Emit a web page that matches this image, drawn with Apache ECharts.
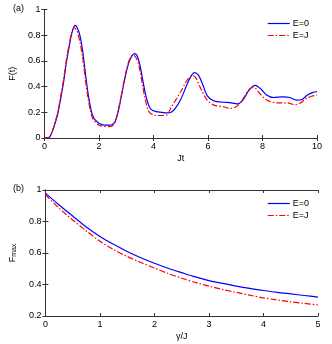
<!DOCTYPE html>
<html lang="en" style="height: 100%">
<head>
  <meta charset="utf-8">
</head>
<body style="height: 100%; margin: 0; background: #fff">
  <div id="container" style="width: 332px; height: 344px"></div>

  <script type="text/javascript" src="https://cdn.jsdelivr.net/npm/echarts@6/dist/echarts.min.js"></script>

  <script type="text/javascript">
    // panel (a): F(t) vs Jt
    var tA = [0, 0.2, 0.4, 0.5, 0.6, 0.7, 0.8, 0.9, 1.0, 1.12, 1.2, 1.3, 1.4, 1.5, 1.6, 1.7, 1.8, 2.0, 2.2, 2.4,
      2.5, 2.6, 2.7, 2.8, 2.9, 3.0, 3.1, 3.2, 3.3, 3.4, 3.5, 3.6, 3.7, 3.8, 3.9, 4.1, 4.3, 4.5, 4.65, 4.8,
      5.0, 5.2, 5.35, 5.5, 5.65, 5.8, 5.97, 6.2, 6.45, 6.7, 6.95, 7.1, 7.3, 7.5, 7.73, 7.95, 8.15, 8.4, 8.75, 9.0,
      9.25, 9.45, 9.65, 9.85, 10];
    var fE0 = [0, 0.01, 0.12, 0.20, 0.31, 0.43, 0.58, 0.70, 0.81, 0.876, 0.86, 0.80, 0.68, 0.51, 0.35, 0.23, 0.16, 0.115, 0.10, 0.10,
      0.105, 0.13, 0.20, 0.30, 0.41, 0.51, 0.59, 0.635, 0.656, 0.64, 0.57, 0.46, 0.35, 0.27, 0.225, 0.205, 0.20, 0.195, 0.20, 0.23,
      0.30, 0.40, 0.47, 0.509, 0.49, 0.42, 0.33, 0.29, 0.28, 0.277, 0.27, 0.265, 0.30, 0.37, 0.41, 0.38, 0.335, 0.315, 0.32, 0.315,
      0.295, 0.30, 0.335, 0.355, 0.36];
    var tB = [0, 0.2, 0.4, 0.5, 0.6, 0.7, 0.8, 0.9, 1.0, 1.09, 1.2, 1.3, 1.4, 1.5, 1.6, 1.7, 1.8, 2.0, 2.2, 2.35,
      2.5, 2.6, 2.7, 2.8, 2.9, 3.0, 3.1, 3.2, 3.27, 3.4, 3.5, 3.6, 3.7, 3.8, 3.9, 4.1, 4.3, 4.5, 4.65, 4.8,
      5.0, 5.2, 5.32, 5.43, 5.55, 5.7, 5.97, 6.22, 6.58, 6.83, 7.07, 7.3, 7.45, 7.6, 7.75, 7.9, 8.16, 8.53, 8.89, 9.19,
      9.4, 9.61, 9.8, 10];
    var fEJ = [0, 0.01, 0.13, 0.21, 0.33, 0.45, 0.60, 0.72, 0.82, 0.86, 0.83, 0.75, 0.63, 0.46, 0.31, 0.20, 0.14, 0.10, 0.09, 0.088,
      0.095, 0.13, 0.21, 0.31, 0.42, 0.52, 0.60, 0.64, 0.645, 0.61, 0.53, 0.41, 0.30, 0.22, 0.19, 0.175, 0.175, 0.18, 0.24, 0.29,
      0.36, 0.44, 0.47, 0.488, 0.47, 0.40, 0.295, 0.256, 0.243, 0.23, 0.248, 0.31, 0.36, 0.393, 0.385, 0.346, 0.295, 0.274, 0.274, 0.26,
      0.275, 0.307, 0.325, 0.333];

    // panel (b): Fmax vs gamma/J
    var gam = [0, 0.25, 0.5, 0.75, 1, 1.25, 1.5, 1.75, 2, 2.25, 2.5, 2.75, 3, 3.25, 3.5, 3.75, 4, 4.25, 4.5, 4.75, 5];
    var fmaxE0 = [0.98, 0.905, 0.835, 0.765, 0.705, 0.655, 0.61, 0.57, 0.535, 0.503, 0.475, 0.448, 0.425,
      0.407, 0.39, 0.375, 0.362, 0.35, 0.34, 0.33, 0.32];
    var fmaxEJ = [0.97, 0.885, 0.81, 0.74, 0.675, 0.622, 0.578, 0.54, 0.505, 0.47, 0.44, 0.413, 0.39,
      0.368, 0.35, 0.332, 0.315, 0.302, 0.29, 0.28, 0.27];

    var names = ['E=0', 'E=J'];
    var blue = '#0000ff', red = '#ff0000';
    var font = 'Liberation Sans';

    function pairs(xs, ys) {
      return xs.map(function (x, i) { return [x, ys[i]]; });
    }

    var dom = document.getElementById('container');
    var myChart = echarts.init(dom, null, { renderer: 'canvas' });

    var lbl = { color: '#000', fontSize: 9, fontFamily: font, margin: 4 };
    var axLine = { show: true, lineStyle: { color: '#333', width: 1 } };
    var tick = { show: true, inside: true, length: 3, lineStyle: { color: '#333' } };

    function xAx(grid, min, max, interval, name, nameGap) {
      return [
        { type: 'value', gridIndex: grid, min: min, max: max, interval: interval, position: 'bottom',
          axisLine: axLine, axisTick: tick, splitLine: { show: false }, axisLabel: lbl,
          name: name, nameLocation: 'middle', nameGap: nameGap,
          nameTextStyle: { color: '#000', fontSize: 9, fontFamily: font } },
        { type: 'value', gridIndex: grid, min: min, max: max, interval: interval, position: 'top',
          axisLine: axLine, axisTick: tick, splitLine: { show: false }, axisLabel: { show: false } }
      ];
    }
    function yAx(grid, min, max, interval, name, nameGap, rich) {
      return [
        { type: 'value', gridIndex: grid, min: min, max: max, interval: interval, position: 'left',
          axisLine: axLine, axisTick: tick, splitLine: { show: false }, axisLabel: lbl,
          name: name, nameLocation: 'middle', nameGap: nameGap, nameRotate: 90,
          nameTextStyle: { color: '#000', fontSize: 9, fontFamily: font, rich: rich } },
        { type: 'value', gridIndex: grid, min: min, max: max, interval: interval, position: 'right',
          axisLine: axLine, axisTick: tick, splitLine: { show: false }, axisLabel: { show: false } }
      ];
    }

    function line(name, data, xi, yi, color, dashed) {
      return {
        type: 'line', name: name, xAxisIndex: xi, yAxisIndex: yi, data: data,
        symbol: 'none', smooth: 0.3, silent: true, animation: false,
        lineStyle: { color: color, width: 1.2, type: dashed ? [6, 2, 1.5, 2] : 'solid' },
        itemStyle: { color: color }
      };
    }

    function legend(top) {
      return {
        data: names, orient: 'vertical', right: 18, top: top, itemWidth: 22, itemHeight: 8, itemGap: 3,
        itemStyle: { opacity: 0 }, lineStyle: { width: 1.2 },
        textStyle: { fontSize: 9, fontFamily: font, color: '#000', padding: [0, 0, 0, -2] }
      };
    }

    var option = {
      backgroundColor: '#fff',
      animation: false,
      grid: [
        { left: 43, right: 15, top: 9.5, height: 128.5 },
        { left: 43, right: 14, top: 190, height: 126 }
      ],
      legend: [legend(14), legend(194)],
      xAxis: xAx(0, 0, 10, 2, 'Jt', 16).concat(xAx(1, 0, 5, 1, 'γ/J', 16)),
      yAxis: yAx(0, 0, 1, 0.2, 'F(t)', 17).concat(
        yAx(1, 0.2, 1, 0.2, '{a|F}{b|max}', 21, {
          a: { fontSize: 9, fontFamily: font, color: '#000' },
          b: { fontSize: 7, fontFamily: font, color: '#000', verticalAlign: 'top', padding: [4, 0, 0, 0] }
        })),
      graphic: [
        { type: 'text', left: 13, top: 4, style: { text: '(a)', fontSize: 9, fontFamily: font, fill: '#000' } },
        { type: 'text', left: 13, top: 184, style: { text: '(b)', fontSize: 9, fontFamily: font, fill: '#000' } }
      ],
      series: [
        line(names[0], pairs(tA, fE0), 0, 0, blue, false),
        line(names[1], pairs(tB, fEJ), 0, 0, red, true),
        line(names[0], pairs(gam, fmaxE0), 2, 2, blue, false),
        line(names[1], pairs(gam, fmaxEJ), 2, 2, red, true)
      ]
    };

    myChart.setOption(option);
    window.addEventListener('resize', myChart.resize);
  </script>
</body>
</html>
